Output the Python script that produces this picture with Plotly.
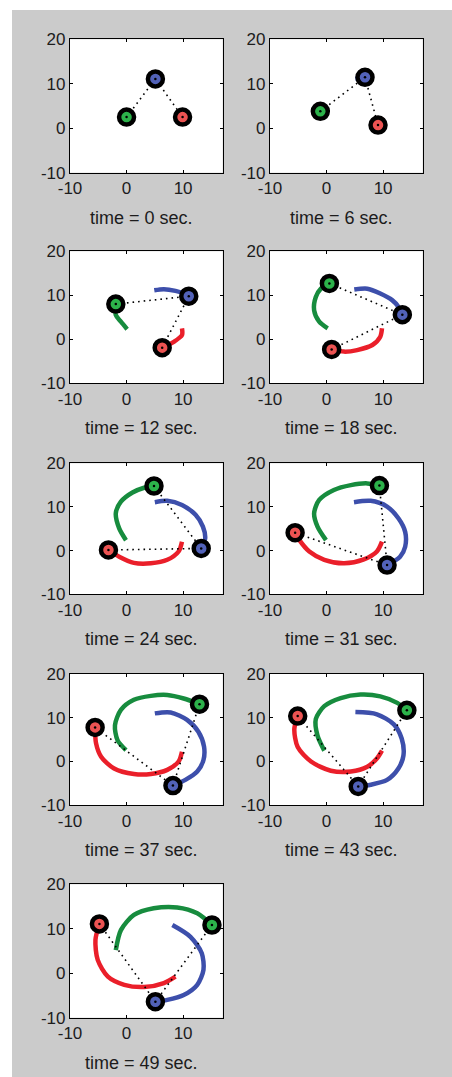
import plotly.graph_objects as go

# Snapshot times of the three-body simulation
TIMES = [0, 6, 12, 18, 24, 31, 37, 43, 49]

# Trail of each body per snapshot; the last point is the body's current position
GREEN_X = [
    [0.0],
    [0.0, -1.1],
    [0.1, -1.0, -1.9, -1.9],
    [0.2, -1.3, -2.2, -1.9, -1.0, 0.5],
    [-0.1, -1.3, -1.9, -1.0, 1.05, 3.1, 4.85],
    [-0.1, -1.6, -2.2, -1.3, 1.3, 4.3, 7.2, 9.35],
    [-0.1, -1.6, -2.05, -1.0, 1.3, 4.3, 7.2, 10.1, 12.9],
    [-0.4, -1.6, -1.9, -0.4, 2.5, 6.0, 9.5, 12.5, 14.2],
    [-1.9, -1.0, 1.3, 4.8, 8.95, 12.5, 15.1],
]
GREEN_Y = [
    [2.5],
    [2.5, 3.8],
    [2.3, 4.0, 5.5, 8.0],
    [2.5, 4.0, 6.6, 9.6, 11.5, 12.7],
    [2.4, 5.1, 8.55, 11.2, 13.3, 14.4, 14.8],
    [2.4, 5.5, 8.55, 11.6, 13.9, 15.0, 15.4, 14.9],
    [2.6, 4.9, 8.3, 11.8, 14.1, 15.0, 15.2, 14.4, 13.1],
    [2.5, 5.9, 9.7, 12.65, 14.5, 15.3, 14.9, 13.4, 11.7],
    [5.2, 9.7, 13.1, 14.6, 14.8, 13.5, 10.85],
]

BLUE_X = [
    [5.1],
    [5.1, 6.8],
    [4.9, 6.6, 8.65, 10.1, 11.0],
    [4.9, 7.2, 9.5, 11.6, 12.7, 13.4],
    [5.0, 7.2, 9.8, 12.2, 13.5, 13.9, 13.2],
    [4.85, 7.8, 10.7, 12.7, 13.9, 13.9, 13.0, 10.7],
    [5.0, 7.8, 10.7, 12.7, 13.7, 13.6, 12.5, 10.4, 8.2],
    [5.1, 8.9, 11.9, 13.3, 13.6, 12.7, 10.7, 7.8, 5.6],
    [8.1, 11.3, 13.3, 13.6, 12.5, 10.1, 7.2, 5.1],
]
BLUE_Y = [
    [11.1],
    [11.1, 11.45],
    [11.15, 11.4, 11.0, 10.4, 9.8],
    [11.3, 11.5, 10.4, 8.9, 7.4, 5.6],
    [11.1, 11.4, 10.45, 8.2, 5.5, 2.8, 0.5],
    [11.1, 11.4, 10.1, 7.4, 4.3, 0.9, -1.4, -3.3],
    [11.0, 11.2, 9.5, 6.8, 3.4, 0.35, -2.3, -4.2, -5.5],
    [11.3, 10.8, 8.5, 5.2, 1.4, -1.6, -4.2, -5.3, -5.7],
    [10.85, 8.2, 4.5, 0.74, -2.6, -4.9, -6.0, -6.4],
]

RED_X = [
    [9.9],
    [9.9, 9.1],
    [9.8, 9.8, 8.35, 6.3],
    [9.8, 9.5, 8.1, 5.4, 3.1, 0.9],
    [9.8, 9.2, 7.2, 4.3, 1.3, -1.3, -3.2],
    [9.8, 8.9, 6.6, 3.1, -0.4, -3.05, -4.8, -5.56],
    [9.8, 9.2, 7.2, 4.3, 1.3, -2.2, -4.5, -5.4, -5.56],
    [9.8, 8.9, 7.2, 4.3, 0.75, -2.75, -5.1, -5.7, -5.1],
    [8.65, 6.6, 3.1, -0.4, -3.3, -5.1, -5.5, -4.8],
]
RED_Y = [
    [2.5],
    [2.5, 0.7],
    [2.5, 0.95, -0.57, -1.9],
    [2.5, 0.6, -1.3, -2.45, -2.8, -2.3],
    [2.05, -0.2, -2.1, -2.9, -2.8, -1.4, 0.15],
    [2.05, -0.2, -2.0, -2.9, -2.1, -0.2, 2.4, 4.1],
    [2.25, 0.0, -1.9, -2.85, -2.85, -1.6, 1.1, 4.2, 7.8],
    [2.5, 0.7, -1.2, -2.3, -2.1, 0.0, 3.3, 7.4, 10.4],
    [-0.76, -2.2, -3.1, -2.6, -0.76, 3.0, 7.5, 11.1],
]

X_TICKS = [-10, 0, 10]
X_TICK_TEXT = ["-10", "0", "10"]
Y_TICKS = [-10, 0, 10, 20]
Y_TICK_TEXT = ["-10", "0", "10", "20"]
X_RANGE = [-10, 17]
Y_RANGE = [-10, 20]

# Styling
W, H = 452, 1077
TRAIL = {"g": "#178c3e", "b": "#3d4fab", "r": "#ea1f2a"}
FILL = {"g": "#2cb24a", "b": "#5262b8", "r": "#ec5352"}
TICK_FONT = dict(family="Liberation Sans, Arial, sans-serif", size=17, color="#1c1c1c")
LABEL_FONT = dict(family="Liberation Sans, Arial, sans-serif", size=18, color="#1c1c1c")

COL_LEFT = [(70, 222.7), (270, 422.7)]
ROW_TOP_BOTTOM = [(39.3, 172.7), (251.3, 383.3), (463.3, 594.3), (674.0, 805.3), (884.3, 1017.7)]
LABEL_CX = [141, 341]

fig = go.Figure()
layout_axes = {}
annotations = []

for i, t in enumerate(TIMES):
    row, col = divmod(i, 2)
    x0, x1 = COL_LEFT[col]
    top, bottom = ROW_TOP_BOTTOM[row]
    n = "" if i == 0 else str(i + 1)
    xa, ya = "x" + n, "y" + n

    bodies = [("g", GREEN_X[i], GREEN_Y[i]), ("b", BLUE_X[i], BLUE_Y[i]), ("r", RED_X[i], RED_Y[i])]

    # trails
    for key, xs, ys in bodies:
        if len(xs) > 1:
            fig.add_trace(go.Scatter(
                x=xs, y=ys, mode="lines", xaxis=xa, yaxis=ya,
                line=dict(color=TRAIL[key], width=4.5, shape="spline", smoothing=0.8),
                hoverinfo="skip", showlegend=False))

    # dotted links green - blue - red
    gx, gy = GREEN_X[i][-1], GREEN_Y[i][-1]
    bx, by = BLUE_X[i][-1], BLUE_Y[i][-1]
    rx, ry = RED_X[i][-1], RED_Y[i][-1]
    fig.add_trace(go.Scatter(
        x=[gx, bx, rx], y=[gy, by, ry], mode="lines", xaxis=xa, yaxis=ya,
        line=dict(color="black", width=1.6, dash="1.6px,4px"),
        hoverinfo="skip", showlegend=False))

    # bodies
    for key, xs, ys in bodies:
        fig.add_trace(go.Scatter(
            x=[xs[-1]], y=[ys[-1]], mode="markers", xaxis=xa, yaxis=ya,
            marker=dict(size=15, color=FILL[key], line=dict(color="black", width=4.5)),
            hoverinfo="skip", showlegend=False))
    fig.add_trace(go.Scatter(
        x=[gx, bx, rx], y=[gy, by, ry], mode="markers", xaxis=xa, yaxis=ya,
        marker=dict(size=2.5, color="black"),
        hoverinfo="skip", showlegend=False))

    common = dict(showline=True, linecolor="black", linewidth=1.2, mirror="ticks",
                  ticks="inside", ticklen=3, tickcolor="black", showgrid=False,
                  zeroline=False, tickfont=TICK_FONT, fixedrange=True, automargin=False)
    layout_axes["xaxis" + n] = dict(
        domain=[x0 / W, x1 / W], anchor=ya, range=X_RANGE,
        tickvals=X_TICKS, ticktext=X_TICK_TEXT, **common)
    layout_axes["yaxis" + n] = dict(
        domain=[1 - bottom / H, 1 - top / H], anchor=xa, range=Y_RANGE,
        tickvals=Y_TICKS, ticktext=Y_TICK_TEXT, **common)

    annotations.append(dict(
        text=f"time = {t} sec.", x=LABEL_CX[col] / W, y=1 - (bottom + 45) / H,
        xref="paper", yref="paper", xanchor="center", yanchor="middle",
        showarrow=False, font=LABEL_FONT))

# gray figure window with a thin white strip along the left and top edges
fig.update_layout(
    width=W, height=H, margin=dict(l=0, r=0, t=0, b=0, autoexpand=False),
    paper_bgcolor="#cbcbcb", plot_bgcolor="white",
    annotations=annotations,
    shapes=[
        dict(type="rect", xref="paper", yref="paper", x0=0, x1=12 / W, y0=0, y1=1,
             fillcolor="white", line=dict(width=0), layer="below"),
        dict(type="rect", xref="paper", yref="paper", x0=0, x1=1, y0=1 - 10 / H, y1=1,
             fillcolor="white", line=dict(width=0), layer="below"),
    ],
    **layout_axes)

fig.write_html("out.html")
